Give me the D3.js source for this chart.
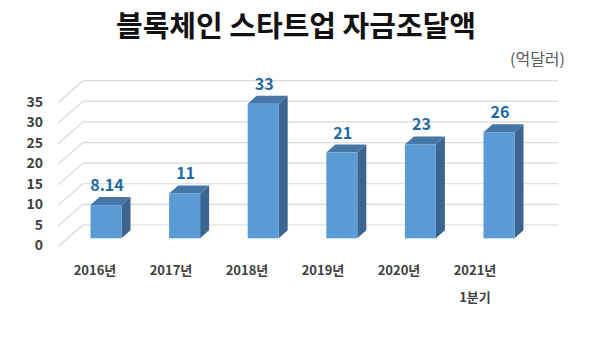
<!DOCTYPE html>
<html>
<head>
<meta charset="utf-8">
<script src="https://cdn.jsdelivr.net/npm/d3@7"></script>
<style>
  body { margin: 0; background: #fff; }
  text { font-family: "Noto Sans CJK KR", "Noto Sans", sans-serif; }
</style>
</head>
<body>
<script>
(function(){
  var width = 600;
  var height = 343;

  // data (unit: 억달러)
  var years = ["2016년", "2017년", "2018년", "2019년", "2020년", "2021년"];
  var subLabels = ["", "", "", "", "", "1분기"];
  var funding = [8.14, 11, 33, 21, 23, 26];
  var valueLabels = ["8.14", "11", "33", "21", "23", "26"];
  var yTicks = [0, 5, 10, 15, 20, 25, 30, 35];

  var depthX = 9, depthY = -8;   // fake 3d offset of bar top/side
  var barWidth = 31;

  var svg = d3.select("body").append("svg")
      .attr("width", width)
      .attr("height", height);

  // three vertical scales: front edge (labels), bar face, back wall
  let yFront = d3.scaleLinear().domain([0, 35]).range([245.5, 101.7]);
  let yBar = d3.scaleLinear().domain([0, 35]).range([238.3, 95.5]);
  let yBack = d3.scaleLinear().domain([0, 35]).range([225, 80.7]);

  let xBar = d3.scalePoint().domain(years).range([106, 499]);
  let xLabel = d3.scalePoint().domain(years).range([95, 475]);

  // back wall grid + diagonal floor/side lines
  let grid = svg.append("g");
  grid.selectAll("line.h").data(yTicks).enter().append("line")
      .attr("x1", 83).attr("x2", 558)
      .attr("y1", (d) => yBack(d)).attr("y2", (d) => yBack(d))
      .attr("stroke", "#d9d9d9").attr("stroke-width", 1.2);
  grid.selectAll("line.d").data(yTicks).enter().append("line")
      .attr("x1", 58).attr("x2", 83)
      .attr("y1", (d) => yFront(d) + 1).attr("y2", (d) => yBack(d))
      .attr("stroke", "#d9d9d9").attr("stroke-width", 1.2);

  // y tick labels
  svg.append("g").selectAll("text").data(yTicks).enter().append("text")
      .attr("x", 43)
      .attr("y", (d) => yFront(d))
      .attr("dy", "0.35em")
      .attr("text-anchor", "end")
      .attr("font-size", 14)
      .attr("font-weight", "bold")
      .attr("fill", "#404040")
      .text((d) => d);

  // bars
  let bars = svg.append("g").selectAll("g").data(years).enter().append("g");
  bars.each(function(d, i){
    let g = d3.select(this);
    let x0 = xBar(d) - barWidth / 2, x1 = x0 + barWidth;
    let yt = yBar(funding[i]), yb = yBar(0);
    g.append("path")   // side
      .attr("d", d3.line()([[x1, yt], [x1 + depthX, yt + depthY], [x1 + depthX, yb + depthY], [x1, yb]]))
      .attr("fill", "#3b6590");
    g.append("path")   // top
      .attr("d", d3.line()([[x0, yt], [x0 + depthX, yt + depthY], [x1 + depthX, yt + depthY], [x1, yt]]))
      .attr("fill", "#4676a8");
    g.append("rect")   // front
      .attr("x", x0).attr("y", yt)
      .attr("width", barWidth).attr("height", yb - yt)
      .attr("fill", "#5b9bd5");
    g.append("text")
      .attr("x", xBar(d) + 1)
      .attr("y", yt + depthY - 6)
      .attr("text-anchor", "middle")
      .attr("font-size", 16)
      .attr("font-weight", "bold")
      .attr("fill", "#1f6aa5")
      .text(valueLabels[i]);
  });

  // category labels
  let cats = svg.append("g").selectAll("g").data(years).enter().append("g");
  cats.append("text")
      .attr("x", (d) => xLabel(d))
      .attr("y", 275)
      .attr("text-anchor", "middle")
      .attr("font-size", 13)
      .attr("font-weight", "bold")
      .attr("fill", "#404040")
      .text((d) => d);
  cats.append("text")
      .attr("x", (d) => xLabel(d))
      .attr("y", 302)
      .attr("text-anchor", "middle")
      .attr("font-size", 13)
      .attr("font-weight", "bold")
      .attr("fill", "#404040")
      .text((d, i) => subLabels[i]);

  // title + unit
  svg.append("text")
      .attr("x", 296).attr("y", 37)
      .attr("text-anchor", "middle")
      .attr("font-size", 29)
      .attr("font-weight", "bold")
      .attr("fill", "#111")
      .text("블록체인 스타트업 자금조달액");
  svg.append("text")
      .attr("x", 565).attr("y", 65)
      .attr("text-anchor", "end")
      .attr("font-size", 16)
      .attr("fill", "#595959")
      .text("(억달러)");
})();
</script>
</body>
</html>
